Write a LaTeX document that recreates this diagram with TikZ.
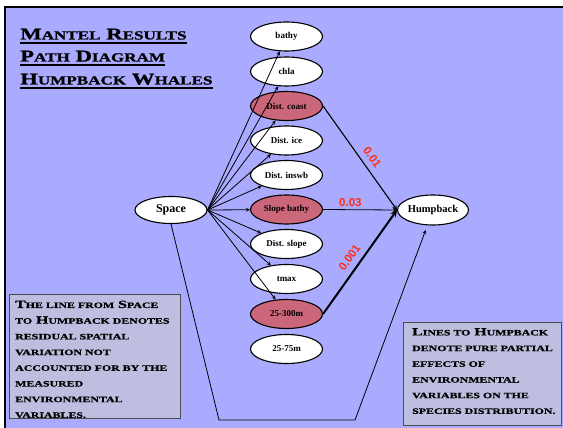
\documentclass[tikz,border=0pt]{standalone}
\usepackage{fontspec}
\setmainfont{Liberation Serif}
\setsansfont{Liberation Sans}
\newfontfamily\titlefont{Liberation Serif Bold}[FakeStretch=1.38, FakeBold=1.2]
\newfontfamily\notefont{Liberation Serif Bold}[FakeStretch=1.44, FakeBold=1]
\usetikzlibrary{calc}
\usetikzlibrary{shapes.geometric}
\definecolor{bgblue}{RGB}{170,170,255}
\definecolor{notefill}{RGB}{190,190,224}
\definecolor{nodered}{RGB}{204,102,122}
\definecolor{labred}{RGB}{255,45,20}
\makeatletter
\newcommand{\lc}[1]{{\fontsize{\strip@pt\dimexpr0.75\dimexpr\f@size pt\relax\relax}{\f@baselineskip}\selectfont\MakeUppercase{#1}}}
\makeatother

\begin{document}
\begin{tikzpicture}[x=1pt, y=-1pt, >=stealth,
    var/.style={ellipse, draw, line width=1.1pt, fill=white, minimum width=72pt,
        minimum height=29pt, inner sep=0pt, font=\bfseries\fontsize{9}{10}\selectfont},
    sig/.style={var, fill=nodered},
    lab/.style={text=labred, inner sep=1pt, font=\sffamily\bfseries\fontsize{11.5}{12}\selectfont},
    ttl/.style={inner sep=0pt, font=\titlefont\fontsize{16.5}{20}\selectfont},
    note/.style={draw=black!70, line width=0.8pt, fill=notefill, anchor=north west, inner sep=0pt},
    notetext/.style={align=left, anchor=north west, inner sep=0pt,
        font=\notefont\fontsize{11}{15.7}\selectfont}]
    \useasboundingbox (0,0) rectangle (563,428);
    \fill[white] (0,0) rectangle (563,428);
    \fill[bgblue] (5,7.5) rectangle (563,428);
    \draw[line width=2pt] (5,428) -- (5,7.5) -- (563,7.5);

    \node[ttl, anchor=base west] (t1) at (20,39.5) {M\lc{antel} R\lc{esults}};
    \node[ttl, anchor=base west] (t2) at (20,61.5) {P\lc{ath} D\lc{iagram}};
    \node[ttl, anchor=base west] (t3) at (20,84.5) {H\lc{umpback} W\lc{hales}};
    \draw[line width=1.8pt] ($(t1.base west)+(0,3.7)$) -- ($(t1.base east)+(0,3.7)$);
    \draw[line width=1.8pt] ($(t2.base west)+(0,3.7)$) -- ($(t2.base east)+(0,3.7)$);
    \draw[line width=1.8pt] ($(t3.base west)+(0,3.7)$) -- ($(t3.base east)+(0,3.7)$);

    \node[var] (bathy) at (286.5,36.5) {bathy};
    \node[var] (chla) at (286.5,71.5) {chla};
    \node[sig] (coast) at (286.5,106) {Dist. coast};
    \node[var] (ice) at (286.5,140.5) {Dist. ice};
    \node[var] (inswb) at (286.5,175) {Dist. inswb};
    \node[sig] (slopeb) at (286.5,209.5) {Slope bathy};
    \node[var] (dslope) at (286.5,244) {Dist. slope};
    \node[var] (tmax) at (286.5,279) {tmax};
    \node[sig] (d300) at (286.5,314) {25-300m};
    \node[var] (d75) at (286.5,349) {25-75m};
    \node[var, minimum height=27pt, font=\bfseries\fontsize{12}{14}\selectfont] (space) at (171,210) {Space};
    \node[var, minimum width=70pt, minimum height=30pt, font=\bfseries\fontsize{10.5}{12}\selectfont] (hump) at (433,210) {Humpback};

    \node[note, minimum width=171pt, minimum height=124pt] (note1) at (9,294) {};
    \node[notetext] (note1txt) at ($(note1.north west)+(6,6.5)$)
    {T\lc{he line from} S\lc{pace}\\
     \lc{to} H\lc{umpback denotes}\\
     \lc{residual spatial}\\
     \lc{variation not}\\
     \lc{accounted for by the}\\
     \lc{measured}\\
     \lc{environmental}\\
     \lc{variables.}};
    \node[note, minimum width=158pt, minimum height=103pt] (note2) at (403,322) {};
    \node[notetext] (note2txt) at ($(note2.north west)+(9,6)$)
    {L\lc{ines to} H\lc{umpback}\\
     \lc{denote pure partial}\\
     \lc{effects of}\\
     \lc{environmental}\\
     \lc{variables on the}\\
     \lc{species distribution.}};

    \draw[->, line width=0.8pt] (space.east) -- (bathy);
    \draw[->, line width=0.8pt] (space.east) -- (chla);
    \draw[->, line width=0.8pt] (space.east) -- (coast);
    \draw[->, line width=0.8pt] (space.east) -- (ice);
    \draw[->, line width=0.8pt] (space.east) -- (inswb);
    \draw[->, line width=0.8pt] (space.east) -- (slopeb);
    \draw[->, line width=0.8pt] (space.east) -- (dslope);
    \draw[->, line width=0.8pt] (space.east) -- (tmax);
    \draw[->, line width=0.8pt] (space.east) -- (d300);

    \draw[->, line width=1.1pt] (coast.east) -- node[lab, sloped, above=5pt, pos=0.55] {0.01} (hump.west);
    \draw[->, line width=0.8pt] (slopeb.east) -- node[lab, above=1.5pt, pos=0.37] {0.03} (hump.west);
    \draw[->, line width=2pt] (d300.east) -- node[lab, sloped, above=5pt, pos=0.48] {0.001} (hump.west);

    \coordinate (lowl) at (219,420);
    \coordinate (lowr) at (355,420);
    \draw[->, line width=0.8pt, shorten >=5pt] (space.south) -- (lowl) -- (lowr) -- (hump.250);
\end{tikzpicture}
\end{document}
